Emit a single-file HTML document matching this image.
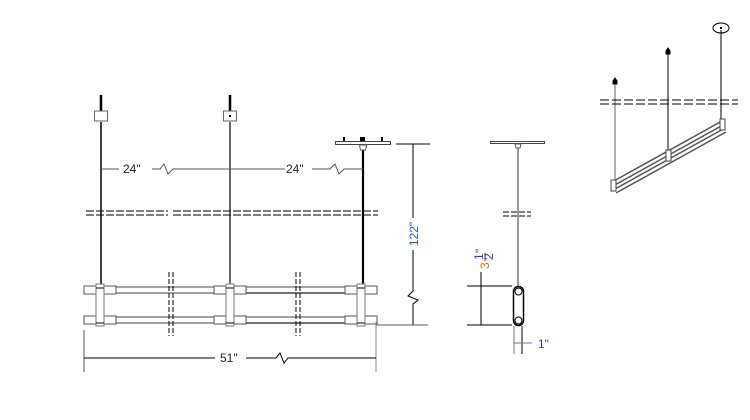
<!DOCTYPE html>
<html><head><meta charset="utf-8"><style>
html,body{margin:0;padding:0;background:#fff;width:750px;height:420px;overflow:hidden}
text{font-family:"Liberation Sans",sans-serif;font-size:12px}
</style></head><body>
<svg width="750" height="420" viewBox="0 0 750 420" xmlns="http://www.w3.org/2000/svg">
<defs>
<g id="conn">
  <rect x="-16" y="-3" width="12" height="8" fill="#fff" stroke="#555" stroke-width="1"/>
  <rect x="4" y="-3" width="12" height="8" fill="#fff" stroke="#555" stroke-width="1"/>
  <rect x="-16" y="27" width="12" height="8" fill="#fff" stroke="#555" stroke-width="1"/>
  <rect x="4" y="27" width="12" height="8" fill="#fff" stroke="#555" stroke-width="1"/>
  <rect x="-4" y="-5" width="8" height="42" fill="#fff" stroke="#777" stroke-width="1"/>
  <line x1="-4" y1="-1" x2="4" y2="-1" stroke="#000"/>
  <line x1="-4" y1="34" x2="4" y2="34" stroke="#000"/>
</g>
</defs>
<g stroke="#000" fill="none">
<line x1="101" y1="95" x2="101" y2="111" stroke-width="2.5"/>
<line x1="101" y1="122" x2="101" y2="286" stroke-width="1.5"/>
<rect x="94.5" y="111" width="13" height="10" stroke="#666" fill="#fff"/>
<line x1="230" y1="95" x2="230" y2="111" stroke-width="2.5"/>
<line x1="230" y1="122" x2="230" y2="286" stroke-width="1.2"/>
<rect x="223.5" y="111" width="13" height="10" stroke="#666" fill="#fff"/>
<rect x="229" y="115" width="2" height="2" fill="#000" stroke="none"/>
<line x1="363" y1="150" x2="363" y2="286" stroke-width="2.2"/>
<rect x="335.5" y="141.5" width="55" height="3" fill="#fff" stroke="#444"/>
<line x1="344" y1="137" x2="344" y2="141" stroke-width="2"/>
<line x1="382" y1="137" x2="382" y2="141" stroke-width="2"/>
<rect x="360" y="137" width="5" height="4" fill="#000" stroke="none"/>
<path d="M359.5 145 h7 l-1 5 h-5 z" fill="#fff" stroke="#555"/>
<line x1="101" y1="169" x2="119" y2="169" stroke="#555"/>
<path d="M152 169 h8 l4 -5 l4 10 l5 -5 h112" stroke="#555"/>
<path d="M312 169 h18 l5 -5 l4 10 l5 -5 h19" stroke="#555"/>
<g stroke="#000" stroke-width="1" stroke-dasharray="8 2">
<line x1="86" y1="211" x2="168" y2="211"/><line x1="86" y1="215" x2="168" y2="215"/>
<line x1="173" y1="211" x2="378" y2="211"/><line x1="173" y1="215" x2="378" y2="215"/>
</g>
<g stroke="#444" stroke-width="1">
<line x1="115" y1="287" x2="215" y2="287"/><line x1="115" y1="293" x2="215" y2="293"/>
<line x1="245" y1="287" x2="345" y2="287"/><line x1="245" y1="293" x2="345" y2="293" stroke-width="1.6"/>
<line x1="115" y1="317" x2="215" y2="317"/><line x1="115" y1="323" x2="215" y2="323"/>
<line x1="245" y1="317" x2="345" y2="317"/><line x1="245" y1="323" x2="345" y2="323" stroke-width="1.6"/>
</g>
<use href="#conn" x="100" y="289"/>
<use href="#conn" x="230" y="289"/>
<use href="#conn" x="361" y="289"/>
<g stroke="#000" stroke-dasharray="5 2" stroke-width="1">
<line x1="169" y1="272" x2="169" y2="336"/><line x1="173" y1="272" x2="173" y2="336"/>
<line x1="296" y1="272" x2="296" y2="336"/><line x1="300" y1="272" x2="300" y2="336"/>
</g>
<line x1="396" y1="144" x2="430" y2="144"/>
<line x1="413" y1="144" x2="413" y2="218"/>
<path d="M413 250 v41 l-5 5 l10 4 l-5 4 v21"/>
<line x1="376" y1="325" x2="428" y2="325" stroke="#555"/>
<line x1="84" y1="330" x2="84" y2="372" stroke="#555"/>
<line x1="376" y1="322" x2="376" y2="372" stroke="#888"/>
<line x1="84" y1="358" x2="215" y2="358"/>
<path d="M246 358 h30 l4 -5 l4 10 l4 -5 h88"/>
<rect x="490.5" y="141.5" width="54" height="2" fill="#fff" stroke="#444"/>
<path d="M515 144 h6 l-1 4 h-4 z" fill="#fff" stroke="#555"/>
<line x1="518" y1="148" x2="518" y2="287" stroke="#333"/>
<g stroke-dasharray="6 2"><line x1="503" y1="212" x2="531" y2="212"/><line x1="503" y1="216" x2="531" y2="216"/></g>
<rect x="513.5" y="286.5" width="10" height="39" rx="5" fill="#fff" stroke="#000" stroke-width="1.5"/>
<circle cx="518.5" cy="291.5" r="3.5" fill="#fff" stroke="#000"/>
<circle cx="518.5" cy="320.5" r="3.5" fill="#fff" stroke="#000"/>
<line x1="467" y1="286" x2="512" y2="286"/>
<line x1="467" y1="325" x2="512" y2="325"/>
<line x1="481" y1="272" x2="481" y2="325"/>
<line x1="514" y1="326" x2="514" y2="354" stroke="#777"/>
<line x1="522" y1="326" x2="522" y2="354"/>
<line x1="514" y1="343" x2="532" y2="343" stroke="#777"/>
<ellipse cx="721" cy="28" rx="8" ry="5"/>
<rect x="720" y="27" width="2" height="2" fill="#000" stroke="none"/>
<line x1="721" y1="30" x2="721" y2="124"/>
<line x1="668" y1="52" x2="668" y2="155"/>
<path d="M666 51 l2 -3 l2 3 v3 h-4z" fill="#000"/>
<line x1="615" y1="82" x2="615" y2="185" stroke="#666"/>
<path d="M613 81 l2 -3 l2 3 v3 h-4z" fill="#000"/>
<g stroke-dasharray="9 3"><line x1="600" y1="100" x2="738" y2="100"/><line x1="600" y1="104" x2="738" y2="104"/></g>
<g stroke="#555" stroke-width="1.5">
<line x1="612" y1="182" x2="722" y2="121"/>
<line x1="613" y1="186" x2="723" y2="125"/>
<line x1="615" y1="189" x2="725" y2="128"/>
<line x1="616" y1="193" x2="726" y2="132"/>
</g>
<rect x="611" y="180" width="5" height="11" fill="#fff" stroke="#444"/>
<rect x="666" y="150" width="5" height="11" fill="#fff" stroke="#444"/>
<rect x="720" y="119" width="5" height="11" fill="#fff" stroke="#444"/>
</g>
<text x="123" y="173" fill="#222">24"</text>
<text x="286" y="173" fill="#222">24"</text>
<text x="220" y="362" fill="#222">51"</text>
<text transform="translate(418,234) rotate(-90)" text-anchor="middle" fill="#1a5fa8">122"</text>
<g transform="translate(489,257) rotate(-90)">
<text x="-12" y="0" fill="#d07010" font-size="12">3</text>
<text x="-3" y="-6" fill="#553399" font-size="9">1</text>
<line x1="-4" y1="-4" x2="4" y2="-4" stroke="#333"/>
<text x="-3" y="4" fill="#553399" font-size="9">2</text>
<text x="4" y="-5" fill="#553399" font-size="9">"</text>
</g>
<text x="538" y="348" fill="#553399">1"</text>
</svg>
</body></html>
